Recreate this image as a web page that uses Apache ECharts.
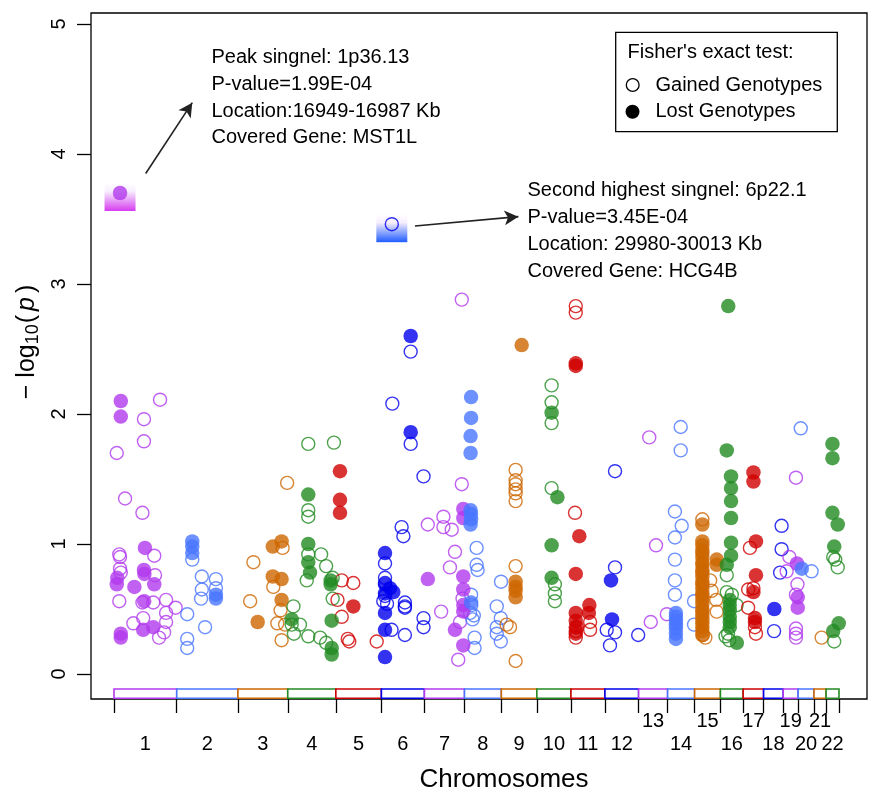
<!DOCTYPE html>
<html>
<head>
<meta charset="utf-8">
<script src="https://cdn.jsdelivr.net/npm/echarts@6/dist/echarts.min.js"></script>
<style>
html, body { margin: 0; padding: 0; background: #fff; }
#chart { width: 881px; height: 800px; }
</style>
</head>
<body>
<div id="chart"></div>
<script>
// chromosome lengths in Mb (hg19), used to lay chromosomes end to end
var chromLengths = [249.25, 243.20, 198.02, 191.15, 180.92, 171.12, 159.14, 146.36, 141.21, 135.53, 135.01,
    133.85, 115.17, 107.35, 102.53, 90.35, 81.20, 78.08, 59.13, 63.03, 48.13, 51.30];
var chromLabels = ['1','2','3','4','5','6','7','8','9','10','11','12','13','14','15','16','17','18','19','20','21','22'];
var chromColors = ['#B23AEE', '#4876FF', '#CD6600', '#228B22', '#D00000', '#0000EE'];
var yTicks = [0, 1, 2, 3, 4, 5];

// [cumulative position (Mb), -log10(p)]
var gainedPoints = [
    // chr1
    [183,2.11],[119,1.96],[119,1.79],[11,1.70],[44,1.35],[113,1.24],[21,0.92],[24,0.90],[160,0.91],[24,0.81],
    [27,0.78],[163,0.76],[21,0.56],[113,0.55],[156,0.55],[207,0.57],[207,0.47],[207,0.40],[245,0.51],[116,0.43],
    [77,0.39],[179,0.28],[199,0.32],
    // chr2
    [311,0.88],[349,0.75],[405,0.73],[349,0.65],[346,0.58],[405,0.66],[291,0.46],[362,0.36],[291,0.27],[291,0.20],
    // chr3
    [688,1.47],[554,0.86],[541,0.56],[633,0.67],[670,0.97],[662,0.49],[649,0.39],[680,0.38],[666,0.26],
    // chr4
    [772,1.77],[874,1.78],[772,1.26],[772,1.21],[772,0.92],[823,0.92],[843,0.83],[766,0.72],[869,0.74],[869,0.58],
    [713,0.52],[739,0.38],[715,0.31],[772,0.29],[819,0.28],[843,0.24],[706,0.38],
    // chr5
    [905,0.72],[951,0.70],[888,0.57],[905,0.44],[929,0.27],[935,0.25],[1044,0.25],
    // chr6
    [1106,2.08],[1179,2.48],[1179,1.77],[1230,1.52],[1143,1.13],[1150,1.06],[1077,0.85],[1077,0.74],[1077,0.70],
    [1070,0.56],[1085,0.54],[1156,0.55],[1156,0.52],[1156,0.51],[1103,0.34],[1156,0.30],[1230,0.43],[1230,0.36],[1077,0.60],
    // chr7
    [1382,2.88],[1382,1.46],[1247,1.15],[1309,1.21],[1309,1.13],[1342,1.11],[1355,0.94],[1335,0.82],[1300,0.48],
    [1368,0.11],[1375,0.40],[1385,0.58],
    // chr8
    [1441,0.97],[1441,0.84],[1445,0.80],[1419,0.61],[1415,0.47],[1425,0.42],[1433,0.28],[1433,0.20],[1538,0.71],
    [1521,0.52],[1537,0.43],[1521,0.36],[1521,0.31],[1537,0.25],[1420,0.53],[1430,0.45],
    // chr9
    [1596,1.57],[1596,1.49],[1596,1.46],[1596,1.42],[1596,1.39],[1596,1.33],[1596,0.83],[1560,0.38],[1574,0.36],[1596,0.10],
    // chr10
    [1739,2.22],[1739,2.09],[1739,1.93],[1739,1.43],[1752,0.69],[1752,0.62],[1752,0.56],
    // chr11
    [1835,2.83],[1835,2.78],[1832,1.24],[1835,0.28],[1892,0.40],[1892,0.34],[1835,0.33],[1840,0.36],
    // chr12
    [1991,1.56],[1991,0.82],[1958,0.34],[1991,0.32],[1971,0.22],[2083,0.30],
    // chr13
    [2127,1.82],[2154,0.99],[2197,0.46],[2133,0.40],
    // chr14
    [2252,1.90],[2252,1.72],[2229,1.25],[2256,1.14],[2229,1.05],[2229,0.88],[2229,0.72],[2229,0.61],[2305,0.56],[2305,0.38],
    // chr15
    [2338,1.19],[2369,0.72],[2375,0.64],[2393,0.57],[2395,0.48],[2350,0.28],[2340,0.30],
    // chr16
    [2435,0.76],[2435,0.63],[2455,0.61],[2474,0.53],[2440,0.31],[2445,0.26],[2430,0.29],
    // chr17
    [2527,0.97],[2520,0.65],[2541,0.66],[2520,0.51],[2547,0.36],[2551,0.31],
    // chr18
    [2653,1.14],[2653,0.96],[2647,0.78],[2623,0.33],
    // chr19
    [2710,1.51],[2684,0.90],[2673,0.79],[2716,0.69],[2710,0.61],[2710,0.35],[2710,0.31],[2710,0.28],
    // chr20
    [2772,0.79],[2729,1.89],
    // chr21
    [2812,0.28],
    // chr22
    [2858,0.90],[2866,0.88],[2876,0.82],[2862,0.25]
];

var lostPoints = [
    // chr1
    [27,2.10],[27,1.98],[123,0.97],[119,0.80],[121,0.77],[13,0.74],[11,0.69],[81,0.67],[160,0.69],[120,0.56],
    [116,0.34],[156,0.36],[27,0.31],[27,0.28],
    // chr2
    [311,1.02],[311,0.98],[311,0.93],[405,0.61],[405,0.58],
    // chr3
    [631,0.98],[666,1.02],[631,0.75],[666,0.73],[666,0.57],[571,0.40],
    // chr4
    [772,1.38],[772,1.00],[772,0.86],[779,0.78],[861,0.72],[861,0.69],[865,0.41],[865,0.20],[865,0.15],[706,0.42],
    // chr5
    [898,1.56],[898,1.34],[898,1.24],[951,0.52],
    // chr6
    [1179,2.60],[1179,1.86],[1077,0.93],[1077,0.69],[1097,0.66],[1110,0.63],[1077,0.62],[1077,0.47],[1077,0.34],[1077,0.13],
    // chr7
    [1388,1.27],[1388,1.20],[1247,0.73],[1388,0.75],[1388,0.65],[1388,0.53],[1388,0.48],[1355,0.34],[1388,0.22],
    // chr8
    [1419,2.13],[1419,1.97],[1417,1.83],[1417,1.70],[1417,1.26],[1419,1.23],[1419,1.19],[1417,1.15],[1419,0.55],
    // chr9
    [1620,2.53],[1596,0.71],[1596,0.67],[1596,0.64],[1596,0.59],
    // chr10
    [1739,2.01],[1762,1.36],[1739,0.99],[1739,0.74],
    // chr11
    [1835,2.39],[1835,2.37],[1849,1.06],[1835,0.77],[1835,0.47],[1835,0.41],[1835,0.36],[1835,0.31],[1889,0.53],[1887,0.47],
    // chr12
    [1975,0.72],[1979,0.42],
    // chr14
    [2233,0.47],[2233,0.44],[2233,0.41],[2233,0.38],[2233,0.35],[2233,0.31],[2233,0.27],
    // chr15
    [2338,1.15],[2338,1.02],[2338,0.99],[2338,0.95],[2338,0.93],[2338,0.90],[2338,0.86],[2338,0.84],[2338,0.80],
    [2338,0.78],[2338,0.75],[2338,0.71],[2338,0.69],[2338,0.66],[2338,0.62],[2338,0.60],[2338,0.57],[2338,0.54],
    [2338,0.50],[2338,0.48],[2338,0.45],[2338,0.42],[2338,0.39],[2338,0.36],[2338,0.33],[2338,0.30],
    [2395,0.88],[2395,0.84],
    // chr16
    [2441,2.83],[2435,1.72],[2452,1.52],[2452,1.43],[2452,1.33],[2452,1.20],[2452,1.01],[2452,0.91],[2435,0.84],
    [2447,0.57],[2447,0.53],[2447,0.49],[2447,0.44],[2447,0.40],[2447,0.36],[2475,0.24],
    // chr17
    [2541,1.55],[2541,1.48],[2551,1.02],[2551,0.76],[2541,0.63],[2547,0.43],[2547,0.40],
    // chr18
    [2624,0.50],
    // chr19
    [2714,0.85],[2717,0.59],[2717,0.51],
    // chr20
    [2733,0.81],
    // chr22
    [2855,1.77],[2855,1.66],[2855,1.24],[2876,1.15],[2862,0.98],[2880,0.39],[2858,0.33]
];

// the two annotated signals: [position, -log10(p), kind]
var peakPoints = [[24, 3.70, 'lost'], [1104, 3.46, 'gained']];
var peakGlow = ['#D63CF0', '#1F5CFF'];

var annot1 = ['Peak singnel: 1p36.13', 'P-value=1.99E-04', 'Location:16949-16987 Kb', 'Covered Gene: MST1L'];
var annot2 = ['Second highest singnel: 6p22.1', 'P-value=3.45E-04', 'Location: 29980-30013 Kb', 'Covered Gene: HCG4B'];
// arrows, tail -> head, in data units
var arrows = [[[126, 3.85], [311, 4.395]], [[1196, 3.446], [1607, 3.518]]];

var FONT = 'Liberation Sans, Arial, Helvetica, sans-serif';

// chromosome start/end/centre
var starts = [], ends = [], centers = [], bounds = [0];
var acc = 0;
for (var i = 0; i < chromLengths.length; i++) {
    starts.push(acc);
    acc += chromLengths[i];
    ends.push(acc);
    centers.push((starts[i] + ends[i]) / 2);
    bounds.push(acc);
}
// labels 13..21 (odd) sit on an upper row, all the others on the lower row
var upperCenters = [], lowerCenters = [];
centers.forEach(function (c, k) {
    if (k + 1 >= 13 && (k + 1) % 2 == 1) upperCenters.push(c); else lowerCenters.push(c);
});

function chromOf(pos) {
    for (var i = 0; i < ends.length; i++) {
        if (pos < ends[i]) return i;
    }
    return ends.length - 1;
}
function labelAt(v) {
    var best = 0;
    for (var i = 0; i < centers.length; i++) {
        if (Math.abs(centers[i] - v) < Math.abs(centers[best] - v)) best = i;
    }
    return chromLabels[best];
}

var gainedData = [], lostData = [];
gainedPoints.concat(peakPoints.filter(function (p) { return p[2] == 'gained'; })).forEach(function (p) {
    gainedData.push({
        value: [p[0], p[1]],
        itemStyle: { color: 'rgba(255,255,255,0)', borderColor: chromColors[chromOf(p[0]) % 6], borderWidth: 1.4 }
    });
});
lostPoints.concat(peakPoints.filter(function (p) { return p[2] == 'lost'; })).forEach(function (p) {
    lostData.push({
        value: [p[0], p[1]],
        itemStyle: { color: chromColors[chromOf(p[0]) % 6] }
    });
});

var barData = [];
for (var j = 0; j < starts.length; j++) barData.push([starts[j], ends[j], j]);

var chart = echarts.init(document.getElementById('chart'));

var graphics = [];
annot1.forEach(function (t, k) {
    graphics.push({ type: 'text', x: 211.5, y: 57.5 + k * 26.8,
        style: { text: t, font: '20px ' + FONT, fill: '#000', textVerticalAlign: 'middle' } });
});
annot2.forEach(function (t, k) {
    graphics.push({ type: 'text', x: 527.5, y: 190.8 + k * 26.8,
        style: { text: t, font: '20px ' + FONT, fill: '#000', textVerticalAlign: 'middle' } });
});
// legend box
graphics.push({ type: 'rect', shape: { x: 615.7, y: 32.3, width: 221.6, height: 99.4 },
    style: { fill: '#fff', stroke: '#000', lineWidth: 1.3 }, z: 10 });
graphics.push({ type: 'text', x: 627.5, y: 52.5, z: 11,
    style: { text: "Fisher's exact test:", font: '20px ' + FONT, fill: '#000', textVerticalAlign: 'middle' } });
graphics.push({ type: 'circle', shape: { cx: 632.7, cy: 85, r: 6.4 }, z: 11,
    style: { fill: 'none', stroke: '#000', lineWidth: 1.3 } });
graphics.push({ type: 'text', x: 655.5, y: 85, z: 11,
    style: { text: 'Gained Genotypes', font: '20px ' + FONT, fill: '#000', textVerticalAlign: 'middle' } });
graphics.push({ type: 'circle', shape: { cx: 632.5, cy: 111.7, r: 7 }, z: 11,
    style: { fill: '#000' } });
graphics.push({ type: 'text', x: 655.5, y: 111.7, z: 11,
    style: { text: 'Lost Genotypes', font: '20px ' + FONT, fill: '#000', textVerticalAlign: 'middle' } });
// axis titles
graphics.push({ type: 'text', x: 504, y: 780,
    style: { text: 'Chromosomes', font: '26px ' + FONT, fill: '#000', textAlign: 'center', textVerticalAlign: 'middle' } });
graphics.push({ type: 'text', x: 27, y: 342, rotation: Math.PI / 2,
    style: {
        text: '{m|\u2212}{t|log}{s|10}{t|(}{i|p}{t|)}',
        textAlign: 'center', textVerticalAlign: 'middle', fill: '#000',
        rich: {
            m: { font: '25px ' + FONT, padding: [0, 7, 0, 0] },
            t: { font: '25px ' + FONT },
            s: { font: '18px ' + FONT, padding: [12, 1, 0, 0] },
            i: { font: 'italic 25px ' + FONT, padding: [0, 4, 0, 4] }
        }
    } });

var xBase = {
    type: 'value', min: -91.4, max: 2992.3, position: 'bottom', offset: 0,
    splitLine: { show: false },
    axisLine: { show: false, onZero: false }
};

var option = {
    animation: false,
    backgroundColor: '#fff',
    textStyle: { fontFamily: FONT },
    grid: { left: 91, top: 13, width: 776, height: 686, show: true, borderColor: '#000', borderWidth: 1.3,
        backgroundColor: 'rgba(0,0,0,0)' },
    xAxis: [
        Object.assign({}, xBase, {
            axisTick: { show: true, customValues: bounds, length: 14, lineStyle: { color: '#000', width: 1.3 } },
            axisLabel: { customValues: lowerCenters, margin: 35, fontSize: 20, color: '#000', fontFamily: FONT,
                hideOverlap: false, formatter: labelAt }
        }),
        Object.assign({}, xBase, {
            axisTick: { show: false },
            axisLabel: { customValues: upperCenters, margin: 12.5, fontSize: 20, color: '#000', fontFamily: FONT,
                hideOverlap: false, formatter: labelAt }
        })
    ],
    yAxis: {
        type: 'value', min: -0.1923, max: 5.0846, position: 'left',
        splitLine: { show: false },
        axisLine: { show: false, onZero: false },
        axisTick: { show: true, customValues: yTicks, length: 14, lineStyle: { color: '#000', width: 1.3 } },
        axisLabel: { customValues: yTicks, rotate: 90, fontSize: 20, color: '#000', margin: 22, fontFamily: FONT }
    },
    graphic: graphics,
    series: [
        {
            type: 'custom', name: 'chromBars', z: 1, silent: true,
            data: barData,
            encode: { x: [0, 1] },
            renderItem: function (params, api) {
                var a = api.coord([api.value(0), -0.115]);
                var b = api.coord([api.value(1), -0.186]);
                return { type: 'rect', shape: { x: a[0], y: a[1], width: b[0] - a[0], height: b[1] - a[1] },
                    style: { fill: '#fff', stroke: chromColors[api.value(2) % 6], lineWidth: 1.6 } };
            }
        },
        {
            type: 'custom', name: 'peakGlow', z: 1, silent: true,
            data: peakPoints.map(function (p, k) { return [p[0], p[1], k]; }),
            renderItem: function (params, api) {
                var c = api.coord([api.value(0), api.value(1)]);
                var col = peakGlow[api.value(2)];
                return { type: 'rect', shape: { x: c[0] - 15.5, y: c[1] - 10, width: 31, height: 28 },
                    style: { fill: new echarts.graphic.LinearGradient(0, 0, 0, 1, [
                        { offset: 0, color: '#ffffff' }, { offset: 0.3, color: '#f6eefc' }, { offset: 1, color: col }]) } };
            }
        },
        {
            type: 'scatter', name: 'Gained Genotypes', z: 3, symbol: 'circle', symbolSize: 13,
            data: gainedData,
            markLine: {
                silent: true, symbol: ['none', 'arrow'], symbolSize: [11, 14],
                label: { show: false },
                lineStyle: { color: '#222', width: 1.6, type: 'solid' },
                data: arrows.map(function (a) { return [{ coord: a[0] }, { coord: a[1] }]; })
            }
        },
        {
            type: 'scatter', name: 'Lost Genotypes', z: 4, symbol: 'circle', symbolSize: 14.5,
            data: lostData
        }
    ]
};
chart.setOption(option);
</script>
</body>
</html>
